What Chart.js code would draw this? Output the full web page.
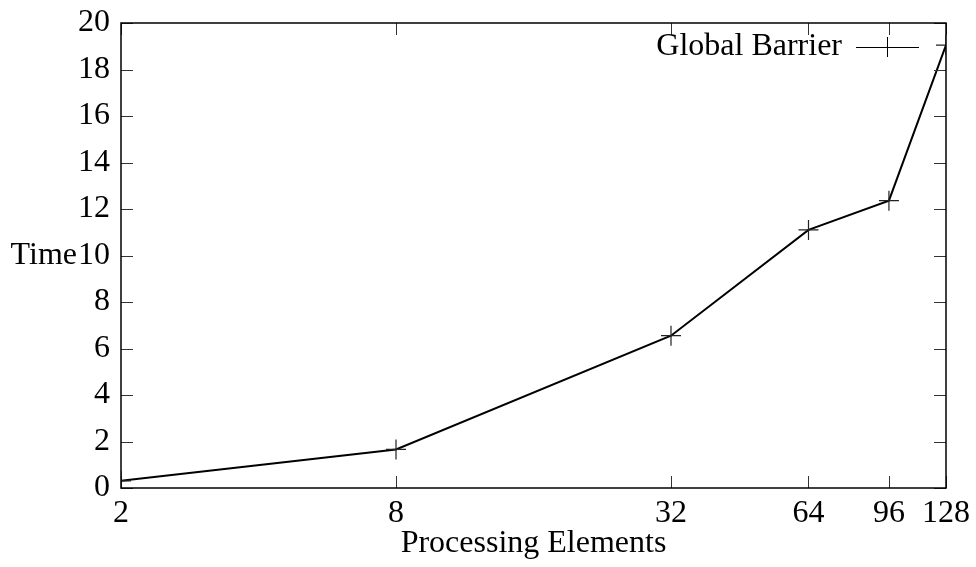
<!DOCTYPE html>
<html>
<head>
<meta charset="utf-8">
<title>Global Barrier</title>
<script src="https://cdn.jsdelivr.net/npm/chart.js@4.4.1/dist/chart.umd.min.js"></script>
<style>
  html, body { margin: 0; padding: 0; background: #fff; }
  #wrap { width: 976px; height: 567px; }
</style>
</head>
<body>
<div id="wrap"><canvas id="chart" width="976" height="567"></canvas></div>
<script>
"use strict";

// values
const processors = [2, 8, 32, 64, 96, 128];
const barrierTime = [0.31, 1.66, 6.55, 11.1, 12.36, 19.05];
const xTickValues = [2, 8, 32, 64, 96, 128];
const yTickValues = [0, 2, 4, 6, 8, 10, 12, 14, 16, 18, 20];
const seriesLabel = "Global Barrier";

const FONT = "'Liberation Serif', 'Times New Roman', serif";
const FONT_SIZE = 32;

// gnuplot look: full frame, inward ticks on all four sides, key inside, "Time" next to the y labels
const gnuplotFrame = {
  id: "gnuplotFrame",
  afterDraw(chart) {
    const ctx = chart.ctx;
    const area = chart.chartArea;
    const xs = chart.scales.x;
    const ys = chart.scales.y;
    const tick = 12;

    ctx.save();
    ctx.strokeStyle = "#333";
    ctx.lineWidth = 1;
    ctx.beginPath();
    yTickValues.forEach(v => {
      const y = Math.round(ys.getPixelForValue(v)) + 0.5;
      ctx.moveTo(area.left, y); ctx.lineTo(area.left + tick, y);
      ctx.moveTo(area.right, y); ctx.lineTo(area.right - tick, y);
    });
    xTickValues.forEach(v => {
      const x = Math.round(xs.getPixelForValue(v)) + 0.5;
      ctx.moveTo(x, area.bottom); ctx.lineTo(x, area.bottom - tick);
      ctx.moveTo(x, area.top); ctx.lineTo(x, area.top + tick);
    });
    ctx.stroke();

    ctx.strokeStyle = "#000";
    ctx.lineWidth = 1.5;
    ctx.strokeRect(area.left, area.top, area.right - area.left, area.bottom - area.top);

    // y axis title, horizontal, level with the "10" label
    ctx.fillStyle = "#000";
    ctx.font = FONT_SIZE + "px " + FONT;
    ctx.textAlign = "right";
    ctx.textBaseline = "middle";
    ctx.fillText("Time", 77, ys.getPixelForValue(10));

    // key in the top right corner
    const ky = 47;
    ctx.fillText(seriesLabel, 842, ky);
    ctx.strokeStyle = "#000";
    ctx.lineWidth = 1;
    ctx.beginPath();
    ctx.moveTo(856, ky + 0.5); ctx.lineTo(919, ky + 0.5);
    ctx.moveTo(887.5, ky - 10); ctx.lineTo(887.5, ky + 10);
    ctx.stroke();
    ctx.restore();
  }
};

const canvas = document.getElementById("chart");
const ctx = canvas.getContext("2d");

new Chart(ctx, {
  type: "line",
  data: {
    datasets: [{
      label: seriesLabel,
      data: processors.map((p, i) => ({ x: p, y: barrierTime[i] })),
      borderColor: "#000",
      borderWidth: 2,
      tension: 0,
      fill: false,
      pointStyle: "cross",
      pointRadius: 10,
      pointBorderWidth: 1.2,
      pointBorderColor: "#222",
      pointBackgroundColor: "#222"
    }]
  },
  options: {
    responsive: false,
    animation: false,
    layout: { padding: { top: 23, right: 30, left: 0, bottom: 0 } },
    plugins: {
      legend: { display: false },
      tooltip: { enabled: false }
    },
    scales: {
      x: {
        type: "logarithmic",
        min: 2,
        max: 128,
        afterBuildTicks: s => { s.ticks = xTickValues.map(v => ({ value: v })); },
        afterFit: s => { s.height = 79; s.paddingLeft = 0; s.paddingRight = 0; },
        grid: { display: false, drawTicks: false },
        border: { display: false },
        ticks: {
          autoSkip: false,
          maxRotation: 0,
          padding: 6,
          color: "#000",
          font: { family: FONT, size: FONT_SIZE },
          callback: v => String(v)
        },
        title: {
          display: true,
          text: "Processing Elements",
          color: "#000",
          font: { family: FONT, size: FONT_SIZE },
          padding: { top: 0, bottom: 4 }
        }
      },
      y: {
        min: 0,
        max: 20,
        afterBuildTicks: s => { s.ticks = yTickValues.map(v => ({ value: v })); },
        afterFit: s => { s.width = 121; s.paddingTop = 0; s.paddingBottom = 0; },
        grid: { display: false, drawTicks: false },
        border: { display: false },
        ticks: {
          padding: 11,
          color: "#000",
          font: { family: FONT, size: FONT_SIZE }
        }
      }
    }
  },
  plugins: [gnuplotFrame]
});
</script>
</body>
</html>
